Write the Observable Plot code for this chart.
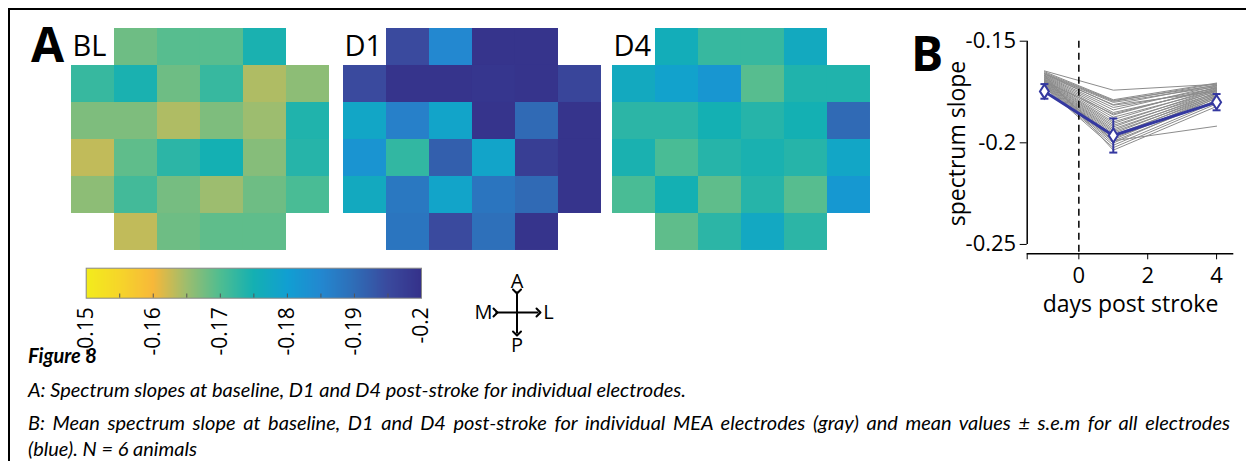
<!DOCTYPE html>
<html>
<head>
<meta charset="utf-8">
<script src="https://cdn.jsdelivr.net/npm/d3@7"></script>
<script src="https://cdn.jsdelivr.net/npm/@observablehq/plot@0.6"></script>
<style>
  html, body { margin: 0; padding: 0; background: #fff; }
  #root { position: relative; width: 1246px; height: 461px; overflow: hidden; font-family: "Open Sans", sans-serif; color: #000; }
  .abs { position: absolute; }
  .frame { position: absolute; left: 8px; top: 8px; width: 1300px; height: 500px; border-left: 2px solid #000; border-top: 2px solid #000; }
  .panel { position: absolute; font-family: "Open Sans", sans-serif; font-weight: 700; font-size: 48px; line-height: 1; }
  .cap { position: absolute; left: 28px; font-family: Lato, "Open Sans", sans-serif; font-style: italic; font-size: 20px; white-space: nowrap; line-height: 26px; }
  .just { width: 1202px; white-space: normal; text-align: justify; text-align-last: justify; }
  svg { overflow: visible; }
</style>
</head>
<body>
<div id="root">
  <div class="frame"></div>
  <div class="panel" style="left:31px;top:20px;">A</div>
  <div class="panel" style="left:911px;top:29px;">B</div>
  <div id="hmBL" class="abs" style="left:70.7px;top:26.7px;"></div>
  <div id="hmD1" class="abs" style="left:342.7px;top:26.7px;"></div>
  <div id="hmD4" class="abs" style="left:611.7px;top:26.7px;"></div>
  <div id="cbar" class="abs" style="left:60px;top:255px;"></div>
  <div id="compass" class="abs" style="left:465px;top:268px;"></div>
  <div id="panelB" class="abs" style="left:900px;top:20px;"></div>
  <div class="cap" style="top:342px;font-weight:700;">Figure 8</div>
  <div class="cap" style="top:376px;">A: Spectrum slopes at baseline, D1 and D4 post-stroke for individual electrodes.</div>
  <div class="cap just" style="top:409px;">B: Mean spectrum slope at baseline, D1 and D4 post-stroke for individual MEA electrodes (gray) and mean values ± s.e.m for all electrodes</div>
  <div class="cap" style="top:435px;">(blue). N = 6 animals</div>
</div>
<script>
// ---------- DATA ----------
// Electrode grids (6x6, corners absent), spectrum slope values
const gridBL = [
  [null, -0.1680, -0.1695, -0.1695, -0.1745, null],
  [-0.1720, -0.1745, -0.1680, -0.1720, -0.1640, -0.1660],
  [-0.1670, -0.1670, -0.1640, -0.1670, -0.1650, -0.1740],
  [-0.1630, -0.1690, -0.1730, -0.1750, -0.1665, -0.1735],
  [-0.1660, -0.1710, -0.1675, -0.1650, -0.1680, -0.1705],
  [null, -0.1630, -0.1680, -0.1690, -0.1690, null]
];
const gridD1 = [
  [null, -0.1950, -0.1850, -0.1995, -0.1995, null],
  [-0.1950, -0.1995, -0.1995, -0.1990, -0.1995, -0.1960],
  [-0.1780, -0.1865, -0.1785, -0.1995, -0.1905, -0.1995],
  [-0.1825, -0.1725, -0.1920, -0.1785, -0.1975, -0.1995],
  [-0.1770, -0.1880, -0.1785, -0.1885, -0.1905, -0.1995],
  [null, -0.1885, -0.1950, -0.1895, -0.1995, null]
];
const gridD4 = [
  [null, -0.1760, -0.1720, -0.1720, -0.1770, null],
  [-0.1770, -0.1790, -0.1820, -0.1695, -0.1740, -0.1740],
  [-0.1730, -0.1730, -0.1750, -0.1735, -0.1750, -0.1905],
  [-0.1745, -0.1705, -0.1735, -0.1745, -0.1735, -0.1780],
  [-0.1705, -0.1750, -0.1690, -0.1735, -0.1695, -0.1815],
  [null, -0.1690, -0.1730, -0.1775, -0.1730, null]
];
const gridLabels = ["BL", "D1", "D4"];

// Colour bar
const colorDomain = [-0.2, -0.15];
const cbTicks = [-0.15, -0.16, -0.17, -0.18, -0.19, -0.2];
const cbMinorTicks = [-0.155, -0.16, -0.165, -0.17, -0.175, -0.18, -0.185, -0.19, -0.195];
// colormap stops as seen on the reference colour bar (t = 0 .. 1, dark blue -> yellow)
const colormapStops = ["#35318a", "#3a4a9e", "#2f6db7", "#2388d0", "#119fd2", "#14b0b3",
                       "#4fbd92", "#9dbd6f", "#f7b83a", "#f6d52a", "#f3ec1c"];

// Compass
const compassArrows = [
  {x1: -1, y1: 0, x2: 1, y2: 0},
  {x1: 0, y1: 1, x2: 0, y2: -1}
];
const compassLabels = [
  {label: "A", x: 0, y: 1, dx: 0, dy: -10},
  {label: "P", x: 0, y: -1, dx: 0, dy: 12},
  {label: "M", x: -1, y: 0, dx: -12, dy: 0},
  {label: "L", x: 1, y: 0, dx: 10, dy: 0}
];

// Panel B
const days = [-1, 1, 4];
const xTicks = [-1.5, 0, 2, 4];
const yTicks = [-0.15, -0.2, -0.25];
// individual electrodes: [BL, D1, D4]
const electrodeSlopes = [
  [-0.1646, -0.1741, -0.1712],
  [-0.1650, -0.1788, -0.1706],
  [-0.1655, -0.1792, -0.1718],
  [-0.1659, -0.1796, -0.1709],
  [-0.1662, -0.1801, -0.1724],
  [-0.1666, -0.1812, -0.1715],
  [-0.1669, -0.1826, -0.1731],
  [-0.1672, -0.1838, -0.1720],
  [-0.1675, -0.1851, -0.1737],
  [-0.1678, -0.1863, -0.1726],
  [-0.1681, -0.1874, -0.1742],
  [-0.1684, -0.1886, -0.1733],
  [-0.1687, -0.1897, -0.1748],
  [-0.1690, -0.1905, -0.1739],
  [-0.1693, -0.1914, -0.1755],
  [-0.1695, -0.1922, -0.1744],
  [-0.1698, -0.1931, -0.1761],
  [-0.1700, -0.1939, -0.1752],
  [-0.1703, -0.1946, -0.1768],
  [-0.1705, -0.1954, -0.1758],
  [-0.1708, -0.1962, -0.1774],
  [-0.1710, -0.1969, -0.1765],
  [-0.1713, -0.1977, -0.1781],
  [-0.1715, -0.1984, -0.1772],
  [-0.1718, -0.1992, -0.1790],
  [-0.1720, -0.2001, -0.1779],
  [-0.1723, -0.2012, -0.1798],
  [-0.1726, -0.2024, -0.1808],
  [-0.1668, -0.2036, -0.1821],
  [-0.1688, -0.1990, -0.1918],
  [-0.1660, -0.1815, -0.1745],
  [-0.1697, -0.1858, -0.1729]
];
const meanSlope = [-0.1747, -0.1964, -0.1800];
const semSlope = [0.0036, 0.0084, 0.0040];

// ---------- STYLE ----------
const BLUE = "#3438a0";
const cmap = d3.piecewise(d3.interpolateRgb, colormapStops);
const colorOpts = {type: "linear", domain: colorDomain, interpolate: cmap, clamp: true};

// ---------- HEATMAPS ----------
function heatmap(grid, label) {
  const cells = [];
  grid.forEach((row, r) => row.forEach((v, c) => { if (v != null) cells.push({row: r, col: c, value: v}); }));
  const idx = [0, 1, 2, 3, 4, 5];
  return Plot.plot({
    width: 258.6, height: 224, margin: 0,
    x: {type: "band", domain: idx, padding: 0, axis: null},
    y: {type: "band", domain: idx, padding: 0, axis: null},
    color: colorOpts,
    style: {background: "transparent", fontFamily: "Open Sans", overflow: "visible"},
    marks: [
      Plot.cell(cells, {x: "col", y: "row", fill: "value"}),
      Plot.text([label], {x: () => 0, y: () => 0, text: d => d, textAnchor: "start", dx: -20.5, dy: 0,
        fontSize: 29, fill: "#000", lineAnchor: "middle"})
    ]
  });
}
document.getElementById("hmBL").appendChild(heatmap(gridBL, gridLabels[0]));
document.getElementById("hmD1").appendChild(heatmap(gridD1, gridLabels[1]));
document.getElementById("hmD4").appendChild(heatmap(gridD4, gridLabels[2]));

// ---------- COLOUR BAR ----------
document.getElementById("cbar").appendChild(Plot.plot({
  width: 390, height: 100,
  marginLeft: 25.7, marginRight: 29, marginTop: 12.7, marginBottom: 57.3,
  x: {domain: [-0.15, -0.2]},
  y: {domain: [0, 1], axis: null},
  color: colorOpts,
  style: {background: "transparent", fontFamily: "Open Sans", overflow: "visible"},
  marks: [
    Plot.raster({fill: (x, y) => x, x1: -0.15, x2: -0.2, y1: 0, y2: 1, width: 335, height: 1, imageRendering: "auto"}),
    Plot.ruleX(cbMinorTicks, {y1: 0, y2: 0.14, stroke: "#555", strokeWidth: 1}),
    Plot.frame({stroke: "#888", strokeWidth: 1}),
    Plot.axisX({ticks: cbTicks, tickSize: 0, tickPadding: 9, tickRotate: -90,
      tickFormat: d => String(d), fontSize: 21, label: null})
  ]
}));

// ---------- COMPASS ----------
document.getElementById("compass").appendChild(Plot.plot({
  width: 100, height: 90,
  marginLeft: 30, marginRight: 27, marginTop: 23, marginBottom: 25,
  x: {domain: [-1, 1], axis: null},
  y: {domain: [-1, 1], axis: null},
  style: {background: "transparent", fontFamily: "Open Sans", overflow: "visible"},
  marks: [
    Plot.link(compassArrows, {x1: "x1", y1: "y1", x2: "x2", y2: "y2", stroke: "#000", strokeWidth: 2,
      markerStart: "arrow", markerEnd: "arrow"}),
    ...compassLabels.map(l => Plot.text([l], {x: "x", y: "y", text: "label", dx: l.dx, dy: l.dy, fontSize: 20, fill: "#000"}))
  ]
}));

// ---------- PANEL B ----------
const grayData = [];
electrodeSlopes.forEach((vals, e) => vals.forEach((v, i) => grayData.push({electrode: e, day: days[i], value: v})));
const meanData = days.map((d, i) => ({day: d, value: meanSlope[i], lo: meanSlope[i] - semSlope[i], hi: meanSlope[i] + semSlope[i]}));

const yBottom = -0.2546;
const tallDiamond = {draw(ctx, size) { const r = Math.sqrt(size / Math.PI); ctx.moveTo(0, -1.4 * r); ctx.lineTo(0.9 * r, 0); ctx.lineTo(0, 1.4 * r); ctx.lineTo(-0.9 * r, 0); ctx.closePath(); }};
const capSymbol = {draw(ctx, size) { const r = Math.sqrt(size / Math.PI); ctx.moveTo(-r, 0); ctx.lineTo(r, 0); }};

document.getElementById("panelB").appendChild(Plot.plot({
  width: 346, height: 300,
  marginLeft: 126.7, marginRight: 12.7, marginTop: 20.7, marginBottom: 66.7,
  x: {domain: [-1.5, 4.5]},
  y: {domain: [yBottom, -0.15]},
  style: {background: "transparent", fontFamily: "Open Sans", fontSize: "22px", overflow: "visible"},
  marks: [
    Plot.line(grayData, {x: "day", y: "value", z: "electrode", stroke: "#8c8c8c", strokeWidth: 1}),
    Plot.ruleX([0], {stroke: "#000", strokeWidth: 1.5, strokeDasharray: "7,5"}),
    Plot.ruleX([-1.5], {y1: yTicks[2], y2: yTicks[0], stroke: "#000", strokeWidth: 1.5}),
    Plot.ruleY([yBottom], {x1: -1.5, x2: 4.5, stroke: "#000", strokeWidth: 1.5}),
    Plot.axisY({ticks: yTicks, tickSize: 7, tickPadding: 4, tickFormat: d => String(d), label: null, fontSize: 22}),
    Plot.axisX({ticks: xTicks, tickSize: 6, tickPadding: 8, tickFormat: d => d === -1.5 ? "" : String(d), label: null, fontSize: 22}),
    Plot.line(meanData, {x: "day", y: "value", stroke: BLUE, strokeWidth: 3}),
    Plot.ruleX(meanData, {x: "day", y1: "lo", y2: "hi", stroke: BLUE, strokeWidth: 2}),
    Plot.dot(meanData, {x: "day", y: "lo", symbol: capSymbol, r: 4, stroke: BLUE, strokeWidth: 2, fill: "none"}),
    Plot.dot(meanData, {x: "day", y: "hi", symbol: capSymbol, r: 4, stroke: BLUE, strokeWidth: 2, fill: "none"}),
    Plot.dot(meanData, {x: "day", y: "value", symbol: tallDiamond, r: 5, fill: "white", stroke: BLUE, strokeWidth: 2}),
    Plot.text(["spectrum slope"], {frameAnchor: "left", textAnchor: "middle", rotate: -90, dx: -70, dy: -4, fontSize: 23, fill: "#000", lineAnchor: "middle"}),
    Plot.text(["days post stroke"], {frameAnchor: "bottom", textAnchor: "middle", dy: 51, fontSize: 23, fill: "#000", lineAnchor: "middle"})
  ]
}));
</script>
</body>
</html>
